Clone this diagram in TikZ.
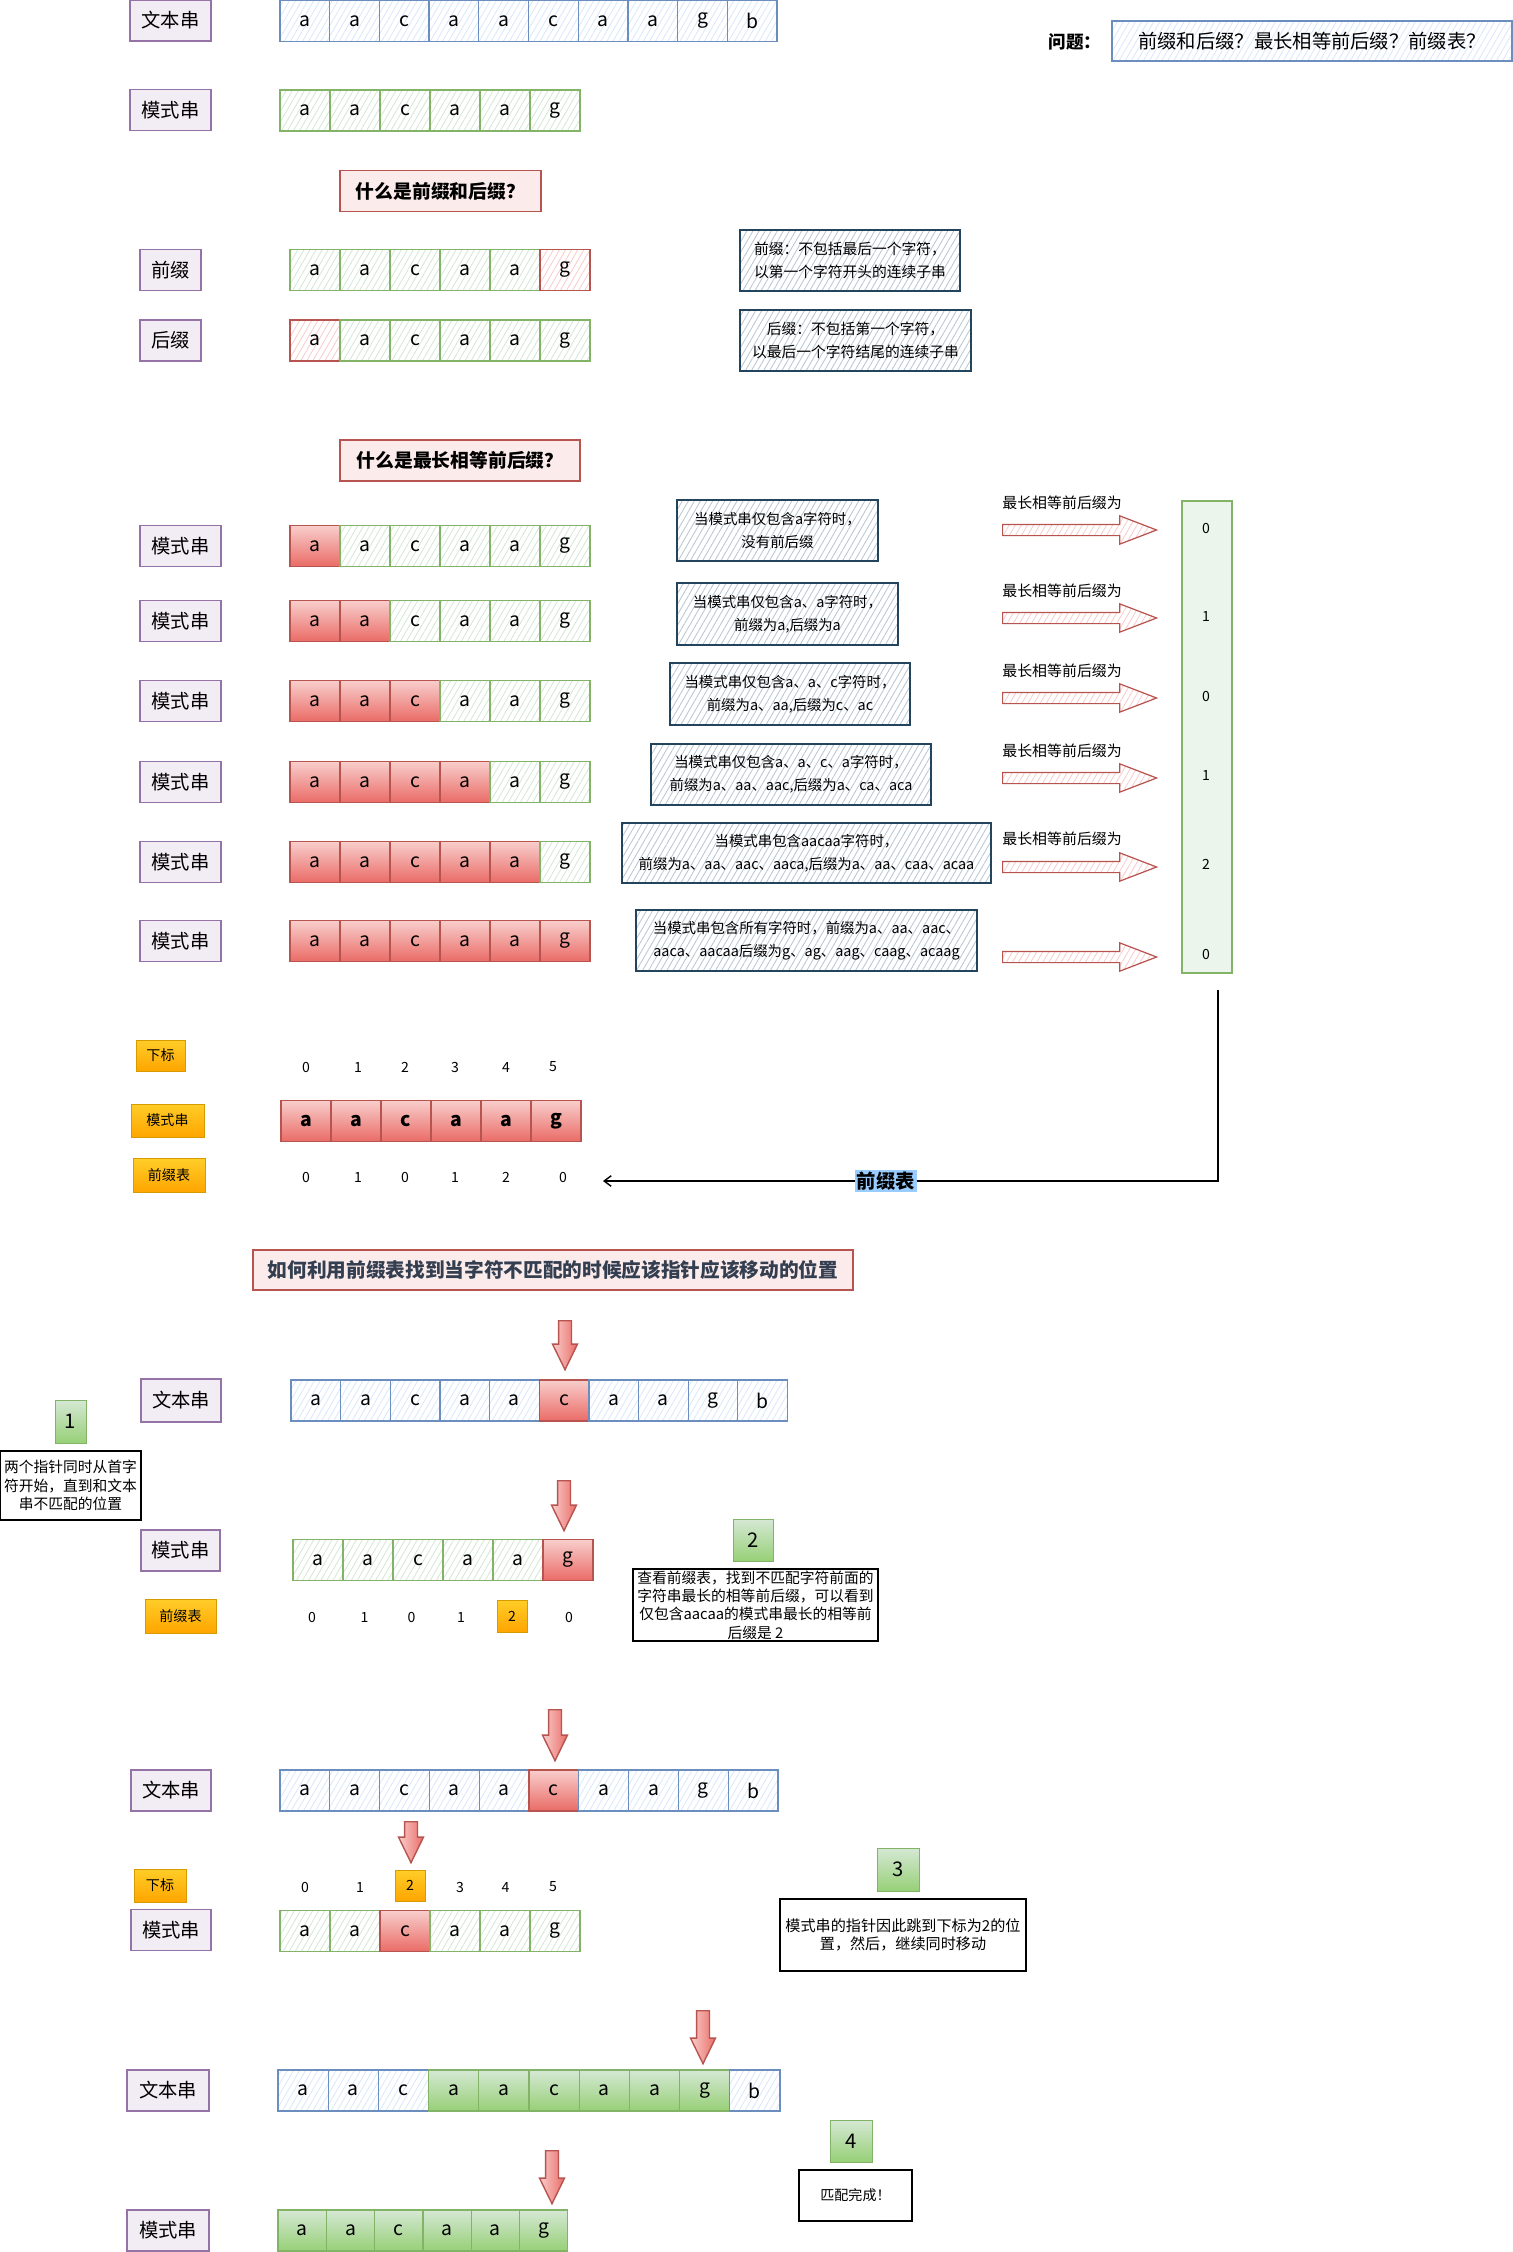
\documentclass[tikz,border=0pt]{standalone}
\usepackage{fontspec}
\setmainfont{Noto Sans CJK SC}
\usetikzlibrary{shapes.arrows,arrows.meta,patterns.meta}
\definecolor{blueL}{HTML}{6C8EBF}
\definecolor{blueF}{HTML}{DAE8FC}
\definecolor{greenL}{HTML}{82B366}
\definecolor{greenF}{HTML}{D5E8D4}
\definecolor{greenS}{HTML}{97D077}
\definecolor{redL}{HTML}{B85450}
\definecolor{redF}{HTML}{F8CECC}
\definecolor{redS}{HTML}{EA6B66}
\definecolor{purpleL}{HTML}{9673A6}
\definecolor{purpleF}{HTML}{E1D5E7}
\definecolor{orangeL}{HTML}{D79B00}
\definecolor{orangeT}{HTML}{FFCD28}
\definecolor{orangeB}{HTML}{FFA500}
\definecolor{slateL}{HTML}{23445D}
\definecolor{slateF}{HTML}{BAC8D3}
\definecolor{titleT}{HTML}{333F50}
\definecolor{tagF}{HTML}{99CCFF}
\newcommand{\fsz}[2]{\fontsize{#1}{#2}\selectfont}

\begin{document}
\begin{tikzpicture}[x=0.02cm, y=-0.02cm,
  hatch/.style={pattern={Lines[angle=60,distance=3pt,line width=0.5pt]}, pattern color=#1},
  cell/.style={draw, line width=0.7pt, minimum width=#1, minimum height=0.82cm, inner sep=0pt, font=\fsz{11}{11}},
  cell/.default=1cm,
  cb/.style={draw=blueL, hatch=blueF},
  cg/.style={draw=greenL, hatch=greenF},
  cr/.style={draw=redL, hatch=redF},
  cR/.style={draw=redL, top color=redF, bottom color=redS},
  cG/.style={draw=greenL, top color=greenF, bottom color=greenS},
  lbl/.style={draw=purpleL, line width=0.7pt, fill=purpleF!45, inner sep=0pt, minimum width=#1, minimum height=0.82cm, font=\fsz{11}{11}},
  lbl/.default=1.62cm,
  olbl/.style={draw=orangeL, top color=orangeT, bottom color=orangeB, inner sep=0pt, font=\fsz{8}{8}},
  note/.style={draw=slateL, line width=0.8pt, hatch=slateF, align=center, inner sep=0pt, font=\fsz{8.2}{13}},
  bnote/.style={draw=black, line width=0.8pt, fill=white, align=center, inner sep=0pt, font=\fsz{8.4}{10.4}},
  ttl/.style={draw=redL, line width=0.7pt, fill=redF!40, inner sep=0pt, minimum height=0.82cm, font=\bfseries\fsz{10.7}{11}},
  gnum/.style={draw=greenL, top color=greenF, bottom color=greenS, minimum width=0.82cm, minimum height=0.86cm, inner sep=0pt, font=\fsz{11.5}{12}},
  idx/.style={inner sep=0pt, font=\fsz{8}{8}},
  hint/.style={inner sep=0pt, anchor=west, font=\fsz{8.5}{9}},
  fatarr/.style={single arrow, draw=redL, line width=0.7pt, hatch=redF, minimum height=3.08cm, minimum width=0.54cm, single arrow head extend=0.17cm, single arrow tip angle=42, inner xsep=0pt, inner ysep=0.1cm, anchor=tail},
  downarr/.style={single arrow, rotate=-90, draw=redL, line width=0.8pt, left color=redF, right color=redS, minimum height=#1, minimum width=0.47cm, single arrow head extend=0.12cm, single arrow tip angle=52, inner xsep=0pt, inner ysep=0.115cm, anchor=tail},
  downarr/.default=1cm
]
  \useasboundingbox (0,0) rectangle (1513,2252);

  % strings and question
  \node[lbl] (txt0) at (170.5,20.5) {文本串};
  \foreach \ch [count=\i] in {a,a,c,a,a,c,a,a,g,b}
    \node[cell=0.994cm, cb] (txt0-\i) at ({304.85+(\i-1)*49.7},21) {\ch};
  \node[lbl] (pat0) at (170.5,110) {模式串};
  \foreach \ch [count=\i] in {a,a,c,a,a,g}
    \node[cell, cg] (pat0-\i) at ({305+(\i-1)*50},110.5) {\ch};
  \node[font=\bfseries\fsz{10}{10}] (qlbl) at (1075,42) {问题：};
  \node[draw=blueL, line width=0.7pt, hatch=blueF, minimum width=8cm, minimum height=0.8cm, inner sep=0pt, font=\fsz{11}{11}] (qbox) at (1312,41) {前缀和后缀？最长相等前后缀？前缀表？};

  % prefix / suffix
  \node[ttl, minimum width=4.02cm] (ttl1) at (440.5,191) {什么是前缀和后缀？};
  \node[lbl=1.22cm] (prelbl) at (170.5,270) {前缀};
  \foreach \ch/\kind [count=\i] in {a/cg,a/cg,c/cg,a/cg,a/cg,g/cr}
    \node[cell, \kind] (pre\i) at ({315+(\i-1)*50},270) {\ch};
  \node[lbl=1.22cm] (suflbl) at (170.5,340.5) {后缀};
  \foreach \ch/\kind [count=\i] in {a/cr,a/cg,c/cg,a/cg,a/cg,g/cg}
    \node[cell, \kind] (suf\i) at ({315+(\i-1)*50},340.5) {\ch};
  \node[note, minimum width=4.4cm, minimum height=1.22cm, font=\fsz{8.4}{13.3}] (prenote) at (850,260.5) {前缀：不包括最后一个字符，\\以第一个字符开头的连续子串};
  \node[note, minimum width=4.62cm, minimum height=1.22cm, font=\fsz{8.4}{13.3}] (sufnote) at (855.5,340.5) {后缀：不包括第一个字符，\\以最后一个字符结尾的连续子串};

  % longest equal prefix and suffix
  \node[ttl, minimum width=4.8cm] (ttl2) at (460,460.5) {什么是最长相等前后缀？};
  \foreach \y [count=\k] in {546,621,701,782,862,941} {
    \node[lbl] (lrowlbl\k) at (180.5,\y) {模式串};
    \foreach \ch [count=\i] in {a,a,c,a,a,g} {
      \ifnum\i>\k \def\kind{cg}\else\def\kind{cR}\fi
      \node[cell, \kind] (lrow\k-\i) at ({315+(\i-1)*50},\y) {\ch};
    }
  }
  \node[note, minimum width=4.02cm, minimum height=1.22cm] (lnote1) at (777.5,530.5) {当模式串仅包含a字符时，\\没有前后缀};
  \node[note, minimum width=4.42cm, minimum height=1.24cm] (lnote2) at (787.5,614) {当模式串仅包含a、a字符时，\\前缀为a,后缀为a};
  \node[note, minimum width=4.8cm, minimum height=1.24cm] (lnote3) at (790,694) {当模式串仅包含a、a、c字符时，\\前缀为a、aa,后缀为c、ac};
  \node[note, minimum width=5.6cm, minimum height=1.22cm] (lnote4) at (791,774.5) {当模式串仅包含a、a、c、a字符时，\\前缀为a、aa、aac,后缀为a、ca、aca};
  \node[note, minimum width=7.38cm, minimum height=1.2cm] (lnote5) at (806.5,853) {当模式串包含aacaa字符时，\\前缀为a、aa、aac、aaca,后缀为a、aa、caa、acaa};
  \node[note, minimum width=6.82cm, minimum height=1.22cm] (lnote6) at (806.5,940.5) {当模式串包含所有字符时，前缀为a、aa、aac、\\aaca、aacaa后缀为g、ag、aag、caag、acaag};
  \foreach \y [count=\k] in {530,618,698,778,867,957}
    \node[fatarr] (farr\k) at (1002,\y) {};
  \foreach \y [count=\k] in {503,591,671,751,839}
    \node[hint] (hint\k) at (1002,\y) {最长相等前后缀为};
  \node[draw=greenL, line width=0.7pt, fill=greenF!45, minimum width=1cm, minimum height=9.44cm, inner sep=0pt] (lpscol) at (1207,737) {};
  \foreach \v/\y [count=\k] in {0/528,1/616,0/696,1/775,2/864,0/954}
    \node[idx] (lps\k) at (1206,\y) {\v};

  % prefix table
  \node[olbl, minimum width=0.98cm, minimum height=0.62cm] (idxlbl) at (160.5,1055.5) {下标};
  \foreach \v/\x in {0/306,1/358,2/405,3/455,4/506,5/553}
    \node[idx] (ix\v) at (\x,1067) {\v};
  \node[olbl, minimum width=1.46cm, minimum height=0.66cm] (patlbl) at (167.5,1120.5) {模式串};
  \foreach \ch [count=\i] in {a,a,c,a,a,g}
    \node[cell, cR, font=\bfseries\fsz{11}{11}] (tab\i) at ({306+(\i-1)*50},1121) {\ch};
  \node[olbl, minimum width=1.44cm, minimum height=0.68cm] (tablbl) at (169,1175) {前缀表};
  \foreach \v/\x [count=\i] in {0/306,1/358,0/405,1/455,2/506,0/563}
    \node[idx] (pv\i) at (\x,1177) {\v};
  \coordinate (lpsout) at (1218,990);
  \coordinate (lpsin) at (603,1181);
  \draw[-{Straight Barb[length=4pt,width=6pt]}, line width=0.8pt] (lpsout) |- (lpsin)
    node[pos=0.77, fill=tagF, inner sep=1pt, font=\bfseries\fsz{11}{11}] (tabtag) {前缀表};

  % using the prefix table
  \node[ttl, minimum width=12cm, minimum height=0.8cm, text=titleT, font=\bfseries\fsz{11.2}{12}] (ttl3) at (553,1270) {如何利用前缀表找到当字符不匹配的时候应该指针应该移动的位置};
  % step 1 and 2
  \node[downarr=0.98cm] (ptr1) at (565,1320) {};
  \node[lbl=1.6cm, minimum height=0.86cm] (s1txtlbl) at (181,1400.5) {文本串};
  \foreach \ch/\kind [count=\i] in {a/cb,a/cb,c/cb,a/cb,a/cb,c/cR,a/cb,a/cb,g/cb,b/cb}
    \node[cell=0.993cm, \kind] (s1t\i) at ({315.8+(\i-1)*49.65},1400.5) {\ch};
  \node[gnum, minimum width=0.62cm] (step1) at (70.5,1421.5) {1};
  \node[bnote, minimum width=2.82cm, minimum height=1.38cm] (s1note) at (70.5,1485.5) {两个指针同时从首字\\符开始，直到和文本\\串不匹配的位置};
  \node[downarr] (ptr2) at (564,1480) {};
  \node[lbl=1.58cm] (s1patlbl) at (180.5,1550.5) {模式串};
  \foreach \ch/\kind [count=\i] in {a/cg,a/cg,c/cg,a/cg,a/cg,g/cR}
    \node[cell, \kind] (s1p\i) at ({318+(\i-1)*50},1560) {\ch};
  \node[olbl, minimum width=1.42cm, minimum height=0.68cm] (s1tablbl) at (180.5,1616) {前缀表};
  \foreach \v/\x [count=\i] in {0/312,1/364.5,0/411.6,1/461}
    \node[idx] (s1v\i) at (\x,1617) {\v};
  \node[olbl, minimum width=0.6cm, minimum height=0.64cm] (s1v5) at (512,1616) {2};
  \node[idx] (s1v6) at (569,1617) {0};
  \node[gnum, minimum width=0.8cm, minimum height=0.84cm] (step2) at (753,1540) {2};
  \node[bnote, minimum width=4.9cm, minimum height=1.44cm] (s2note) at (755.5,1605) {查看前缀表，找到不匹配字符前面的\\字符串最长的相等前后缀，可以看到\\仅包含aacaa的模式串最长的相等前\\后缀是 2};

  % step 3
  \node[downarr=1.02cm] (ptr3) at (555,1709) {};
  \node[lbl=1.6cm] (s3txtlbl) at (171,1790.5) {文本串};
  \foreach \ch/\kind [count=\i] in {a/cb,a/cb,c/cb,a/cb,a/cb,c/cR,a/cb,a/cb,g/cb,b/cb}
    \node[cell=0.996cm, \kind] (s3t\i) at ({304.9+(\i-1)*49.8},1790.5) {\ch};
  \node[downarr=0.82cm] (ptr4) at (411,1821) {};
  \node[olbl, minimum width=1.04cm, minimum height=0.66cm] (s3idxlbl) at (160,1885.5) {下标};
  \foreach \v/\x in {0/305,1/360,3/460,4/505.5,5/553}
    \node[idx] (s3ix\v) at (\x,1887) {\v};
  \node[olbl, minimum width=0.6cm, minimum height=0.62cm] (s3ix2) at (410,1885.5) {2};
  \node[lbl=1.6cm] (s3patlbl) at (171,1930) {模式串};
  \foreach \ch/\kind [count=\i] in {a/cg,a/cg,c/cR,a/cg,a/cg,g/cg}
    \node[cell, \kind] (s3p\i) at ({305+(\i-1)*50},1931) {\ch};
  \node[gnum, minimum width=0.84cm] (step3) at (898,1869.5) {3};
  \node[bnote, minimum width=4.92cm, minimum height=1.44cm, font=\fsz{8.6}{10}] (s3note) at (903,1935) {模式串的指针因此跳到下标为2的位\\置，然后，继续同时移动};

  % step 4
  \node[downarr=1.06cm] (ptr5) at (703,2010) {};
  \node[lbl=1.64cm] (s4txtlbl) at (168,2090.5) {文本串};
  \foreach \ch/\kind [count=\i] in {a/cb,a/cb,c/cb,a/cG,a/cG,c/cG,a/cG,a/cG,g/cG,b/cb}
    \node[cell=1.004cm, \kind] (s4t\i) at ({303.1+(\i-1)*50.2},2090.5) {\ch};
  \node[gnum, minimum width=0.84cm, minimum height=0.84cm] (step4) at (851,2141) {4};
  \node[bnote, minimum width=2.26cm, minimum height=1.02cm, font=\fsz{8}{8}] (s4note) at (855.5,2195.5) {匹配完成！};
  \node[downarr=1.06cm] (ptr6) at (552,2150) {};
  \node[lbl=1.64cm] (s4patlbl) at (168,2230.5) {模式串};
  \foreach \ch [count=\i] in {a,a,c,a,a,g}
    \node[cell=0.966cm, cG] (s4p\i) at ({302.15+(\i-1)*48.3},2230.5) {\ch};
\end{tikzpicture}
\end{document}
